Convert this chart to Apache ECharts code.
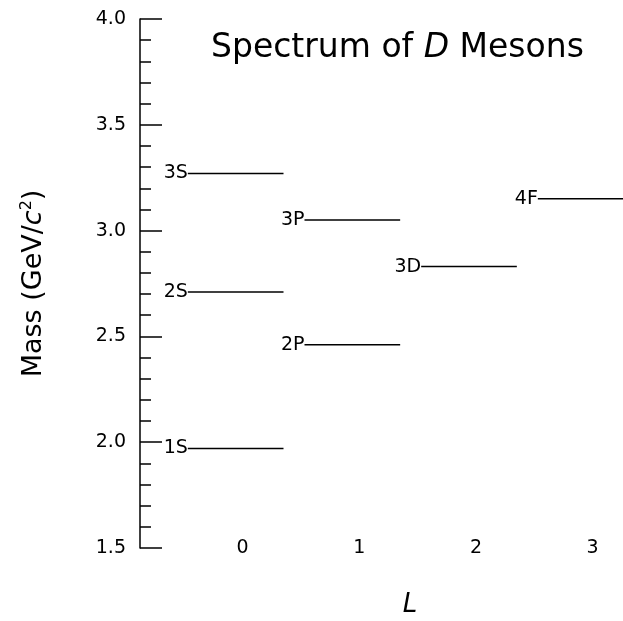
<!DOCTYPE html>
<html>
<head>
<meta charset="utf-8">
<script src="https://cdn.jsdelivr.net/npm/echarts@6/dist/echarts.min.js"></script>
<style>
  html, body { margin: 0; padding: 0; background: #fff; }
  #chart { width: 623px; height: 621px; }
</style>
</head>
<body>
<div id="chart"></div>
<script>
// Charmed meson levels: name, orbital angular momentum L, mass (GeV/c^2)
const levelNames = ['1S', '2S', '3S', '2P', '3P', '3D', '4F'];
const orbitalL   = [0, 0, 0, 1, 1, 2, 3];
const massGeV    = [1.97, 2.71, 3.27, 2.46, 3.05, 2.83, 3.15];
const xTickValues = [0, 1, 2, 3];

const FONT = 'DejaVu Sans';
// each level is a short horizontal bar around its L column
const BAR_LEFT = 0.47;
const BAR_RIGHT = 0.35;

const chart = echarts.init(document.getElementById('chart'));

const option = {
  animation: false,
  backgroundColor: '#fff',
  textStyle: { fontFamily: FONT, color: '#000' },
  grid: { left: 140, right: 0, top: 19, bottom: 73, containLabel: false, outerBoundsMode: 'none' },
  title: {
    left: 211,
    top: 32,
    padding: 0,
    text: '{n|Spectrum of }{i|D}{n| Mesons}',
    textStyle: {
      fontWeight: 'normal',
      rich: {
        n: { fontFamily: FONT, fontSize: 33, fontWeight: 'normal', color: '#000' },
        i: { fontFamily: FONT, fontSize: 33, fontWeight: 'normal', color: '#000', fontStyle: 'italic' }
      }
    }
  },
  xAxis: {
    type: 'value',
    min: -0.88,
    max: 3.26,
    axisLine: { show: false, onZero: false },
    axisTick: { show: false },
    splitLine: { show: false },
    axisLabel: {
      customValues: xTickValues,
      verticalAlign: 'middle',
      margin: 0,
      fontSize: 19,
      color: '#000',
      fontFamily: FONT
    },
    name: 'L',
    nameLocation: 'middle',
    nameGap: 44,
    nameTextStyle: {
      fontStyle: 'italic',
      fontSize: 26,
      color: '#000',
      fontFamily: FONT,
      padding: [0, 0, 0, 57]
    }
  },
  yAxis: {
    type: 'value',
    min: 1.5,
    max: 4.0,
    interval: 0.5,
    axisLine: { show: true, onZero: false, lineStyle: { color: '#000', width: 1.5 } },
    axisTick: { show: true, inside: true, length: 22, lineStyle: { color: '#000', width: 1.5 } },
    minorTick: { show: true, splitNumber: 5, length: 11, lineStyle: { color: '#000', width: 1.5 } },
    splitLine: { show: false },
    axisLabel: {
      formatter: function (v) { return v.toFixed(1); },
      margin: 14,
      fontSize: 19,
      color: '#000',
      fontFamily: FONT
    },
    name: 'Mass (GeV/{i|c}{s|2})',
    nameLocation: 'middle',
    nameGap: 92,
    nameRotate: 90,
    nameTextStyle: {
      fontSize: 27,
      color: '#000',
      fontFamily: FONT,
      rich: {
        i: { fontSize: 27, fontStyle: 'italic', color: '#000', fontFamily: FONT },
        s: { fontSize: 16, color: '#000', fontFamily: FONT, verticalAlign: 'top', padding: [0, 0, 13, 0] }
      }
    }
  },
  series: [{
    type: 'custom',
    data: levelNames.map(function (n, i) { return [orbitalL[i], massGeV[i]]; }),
    renderItem: function (params, api) {
      const L = api.value(0);
      const m = api.value(1);
      const p0 = api.coord([L - BAR_LEFT, m]);
      const p1 = api.coord([L + BAR_RIGHT, m]);
      return {
        type: 'group',
        children: [
          {
            type: 'line',
            shape: { x1: p0[0], y1: p0[1], x2: p1[0], y2: p1[1] },
            style: { stroke: '#000', lineWidth: 1.5 }
          },
          {
            type: 'text',
            x: p0[0],
            y: p0[1],
            style: {
              text: levelNames[params.dataIndex],
              align: 'right',
              verticalAlign: 'middle',
              fontSize: 19,
              fontFamily: FONT,
              fill: '#000'
            }
          }
        ]
      };
    }
  }]
};

chart.setOption(option);
</script>
</body>
</html>
